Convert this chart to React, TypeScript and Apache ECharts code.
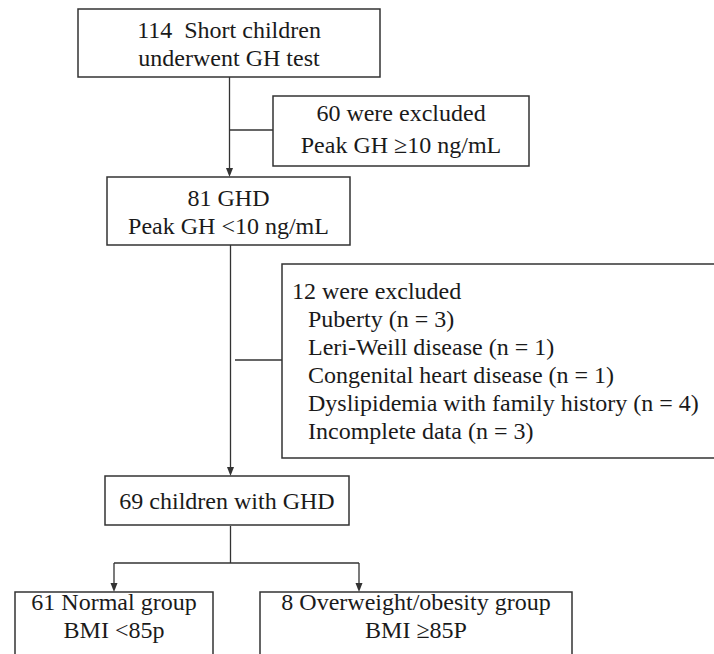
import React, { useEffect, useRef } from "react";
import * as echarts from "echarts";

// ---- content ----
const screenedLines = ["114  Short children", "underwent GH test"];
const excludedFirstLines = ["60 were excluded", "Peak GH \u226510 ng/mL"];
const ghdLines = ["81 GHD", "Peak GH <10 ng/mL"];
const excludedSecondTitle = "12 were excluded";
const excludedSecondReasons = [
  "Puberty (n = 3)",
  "Leri-Weill disease (n = 1)",
  "Congenital heart disease (n = 1)",
  "Dyslipidemia with family history (n = 4)",
  "Incomplete data (n = 3)",
];
const finalLines = ["69 children with GHD"];
const normalLines = ["61 Normal group", "BMI <85p"];
const overweightLines = ["8 Overweight/obesity group", "BMI \u226585P"];

// ---- layout ----
const FONT = "Liberation Serif";
const FS = 24;
const LH = 28;
const STROKE = "#333333";
const TEXT = "#1a1a1a";

type Box = { x: number; y: number; w: number; h: number; lines: string[]; cy?: number; lh?: number };

const centeredBoxes: Box[] = [
  { x: 78, y: 9, w: 302, h: 68, lines: screenedLines, cy: 44 },
  { x: 273, y: 96, w: 256, h: 70, lines: excludedFirstLines, cy: 129, lh: 32 },
  { x: 107, y: 177, w: 243, h: 68, lines: ghdLines, cy: 212 },
  { x: 105, y: 476, w: 244, h: 49, lines: finalLines },
  { x: 15, y: 592, w: 198, h: 80, lines: normalLines, cy: 616 },
  { x: 260, y: 592, w: 312, h: 80, lines: overweightLines, cy: 616 },
];

function textStyle(t: string, align: string) {
  return {
    text: t,
    fill: TEXT,
    fontFamily: FONT,
    fontSize: FS,
    align,
    verticalAlign: "middle",
  };
}

function arrowHead(x: number, tipY: number) {
  return {
    type: "polygon",
    shape: { points: [[x - 3.5, tipY - 9], [x + 3.5, tipY - 9], [x, tipY]] },
    style: { fill: STROKE },
    silent: true,
  };
}

function line(x1: number, y1: number, x2: number, y2: number) {
  return {
    type: "line",
    shape: { x1, y1, x2, y2 },
    style: { stroke: STROKE, lineWidth: 1.3 },
    silent: true,
  };
}

function buildGraphics() {
  const els: any[] = [];
  centeredBoxes.forEach((b) => {
    els.push({
      type: "rect",
      shape: { x: b.x, y: b.y, width: b.w, height: b.h },
      style: { fill: "#ffffff", stroke: STROKE, lineWidth: 1.5 },
      silent: true,
    });
  });
  // the box on the right for the second exclusion (clipped by the page edge)
  els.push({
    type: "rect",
    shape: { x: 282, y: 264, width: 440, height: 194 },
    style: { fill: "#ffffff", stroke: STROKE, lineWidth: 1.5 },
    silent: true,
  });

  // connectors
  els.push(line(229.5, 77, 229.5, 170));
  els.push(arrowHead(229.5, 177));
  els.push(line(229.5, 130, 273, 130));
  els.push(line(230.5, 245, 230.5, 468));
  els.push(arrowHead(230.5, 476));
  els.push(line(235, 360, 282, 360));
  els.push(line(230.5, 526, 230.5, 563));
  els.push(line(114, 563, 359, 563));
  els.push(line(114, 563, 114, 585));
  els.push(arrowHead(114, 592));
  els.push(line(359, 563, 359, 585));
  els.push(arrowHead(359, 592));

  // texts in centred boxes
  centeredBoxes.forEach((b) => {
    const n = b.lines.length;
    const cy = b.cy !== undefined ? b.cy : b.y + b.h / 2;
    const lh = b.lh !== undefined ? b.lh : LH;
    b.lines.forEach((t, i) => {
      els.push({
        type: "text",
        x: b.x + b.w / 2,
        y: cy + (i - (n - 1) / 2) * lh,
        style: textStyle(t, "center"),
        silent: true,
      });
    });
  });

  // left aligned texts of the second exclusion box
  els.push({ type: "text", x: 292, y: 291, style: textStyle(excludedSecondTitle, "left"), silent: true });
  excludedSecondReasons.forEach((t, i) => {
    els.push({ type: "text", x: 308, y: 291 + (i + 1) * LH, style: textStyle(t, "left"), silent: true });
  });
  return els;
}

export default function App() {
  const ref = useRef<HTMLDivElement>(null);
  useEffect(() => {
    document.body.style.margin = "0";
    if (!ref.current) return;
    const chart = echarts.init(ref.current, undefined, { renderer: "svg" });
    chart.setOption({
      animation: false,
      backgroundColor: "#ffffff",
      graphic: { elements: buildGraphics() },
    });
    return () => chart.dispose();
  }, []);
  return <div ref={ref} style={{ width: 714, height: 654, position: "absolute", left: 0, top: 0 }} />;
}
